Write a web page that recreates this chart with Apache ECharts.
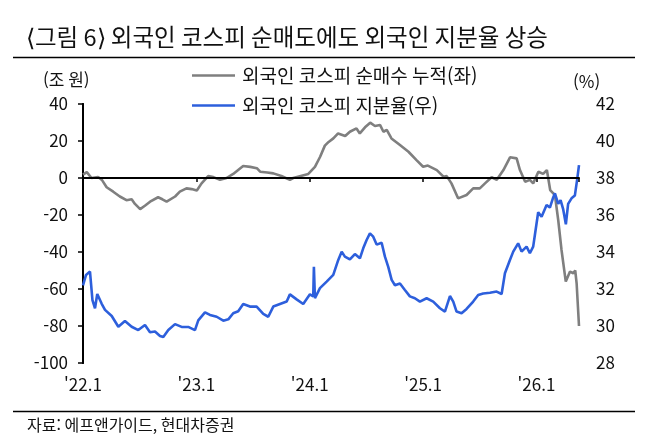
<!DOCTYPE html>
<html lang="ko">
<head>
<meta charset="UTF-8">
<title>외국인 코스피 순매도에도 외국인 지분율 상승</title>
<script src="https://cdn.jsdelivr.net/npm/echarts@6/dist/echarts.min.js"></script>
<style>
  html, body { margin: 0; padding: 0; background: #fff; }
  #chart { width: 658px; height: 444px; }
</style>
</head>
<body>
<div id="chart"></div>
<script>
// x = months since Jan 2022
var yearTicks = ["'22.1", "'23.1", "'24.1", "'25.1", "'26.1"];

// 외국인 코스피 순매수 누적 (조 원, left axis)
var netBuyMonths = [0, 0.4, 0.9, 1.6, 2.0, 2.5, 3.2, 3.9, 4.6, 5.15, 5.5, 6.05, 6.55, 7.1, 7.95, 8.4,
  8.85, 9.75, 10.25, 10.95, 11.5, 12.05, 12.55, 13.25, 13.8, 14.5, 15.2, 15.9, 16.95, 17.7, 18.4,
  18.75, 19.5, 20.15, 21.0, 21.9, 22.25, 22.95, 23.85, 24.55, 25.1, 25.6, 26.0, 26.5, 27.0, 27.75,
  28.25, 28.95, 29.3, 29.85, 30.4, 30.9, 31.45, 31.8, 32.15, 32.65, 33.55, 34.45, 35.3, 36.0, 36.5,
  37.45, 38.15, 38.5, 39.0, 39.7, 40.6, 41.3, 42.0, 42.55, 43.25, 43.8, 44.5, 45.2, 45.9, 46.25,
  46.8, 47.3, 47.65, 48.2, 48.7, 49.1, 49.45, 49.95, 50.3, 50.65, 51.1, 51.55, 51.9, 52.1, 52.25, 52.5];
var netBuy = [1.8, 3.2, 0, 0.5, -1, -5, -7.4, -10, -12, -11.5, -14, -16.8, -15, -12.8, -10.4, -11.5,
  -12.8, -10, -7.4, -5.6, -6, -6.8, -2.9, 1, 0.5, -1, 0, 2.2, 6.5, 6, 5.3,
  3.4, 3.0, 2.5, 1.1, -1, 0, 1, 2.2, 6, 11.5, 17.5, 19.5, 21.4, 24.1, 22.7,
  25, 26.8, 24.1, 27.4, 29.9, 28.1, 28.6, 25, 26, 21.4, 17.8, 14.2, 9.7, 6.1, 6.7,
  4.3, 0.7, 1, -2.9, -11, -9.2, -5.6, -5.6, -2.9, 0.4, -1, 4.3, 11.2, 10.6, 4.3,
  -2, -1, -2.9, 3.4, 2.2, 4.3, -6.5, -9.2, -22.7, -38.9, -56, -50.6, -51.5, -50, -57, -80];

// 외국인 코스피 지분율 (%, right axis)
var shareMonths = [0, 0.32, 0.74, 0.92, 1.0, 1.27, 1.51, 1.98, 2.33, 3.04, 3.74, 4.44, 5.15, 5.85, 6.56,
  7.09, 7.62, 8.15, 8.5, 9.03, 9.74, 10.44, 11.14, 11.85, 12.2, 12.91, 13.44, 14.15, 14.85, 15.38,
  15.9, 16.43, 16.96, 17.67, 18.38, 19.08, 19.61, 20.14, 20.85, 21.56, 21.9, 22.61, 23.31, 24.02,
  24.37, 24.44, 24.55, 25.08, 25.79, 26.49, 27.02, 27.38, 27.72, 28.25, 28.78, 29.31, 29.66, 30.02,
  30.37, 30.72, 31.08, 31.61, 31.96, 32.31, 32.67, 33.02, 33.55, 34.07, 34.6, 35.13, 35.66, 36.37,
  37.07, 37.78, 38.31, 38.84, 39.19, 39.54, 40.07, 40.6, 41.3, 41.83, 42.36, 43.07, 43.78, 44.31,
  44.66, 45.19, 45.54, 46.06, 46.42, 46.95, 47.3, 47.65, 47.83, 48.18, 48.54, 49.07, 49.42, 49.77,
  49.95, 50.3, 50.55, 50.83, 51.11, 51.35, 51.71, 52.06, 52.3, 52.5];
var share = [32.2, 32.76, 32.94, 33.0, 31.4, 30.96, 31.73, 31.2, 30.87, 30.54, 29.96, 30.27, 29.96, 29.78, 30.05,
  29.66, 29.7, 29.46, 29.4, 29.78, 30.1, 29.95, 29.95, 29.78, 30.3, 30.74, 30.6, 30.5, 30.29, 30.36,
  30.69, 30.8, 31.19, 31.05, 31.05, 30.65, 30.5, 31.05, 31.19, 31.32, 31.71, 31.44, 31.19, 31.71,
  31.6, 33.2, 31.5, 32.05, 32.4, 32.76, 33.57, 34.02, 33.75, 33.6, 33.89, 33.66, 34.2, 34.65,
  35.01, 34.83, 34.4, 34.5, 33.75, 33.2, 32.49, 32.2, 32.3, 31.95, 31.6, 31.5, 31.32, 31.5,
  31.32, 30.96, 30.78, 31.62, 31.32, 30.78, 30.69, 30.92, 31.32, 31.68, 31.76, 31.8, 31.86, 31.73,
  32.85, 33.57, 34.02, 34.47, 34.02, 34.29, 33.93, 34.29, 34.92, 36.15, 35.9, 36.54, 36.4, 36.95,
  37.17, 36.6, 36.8, 36.3, 35.5, 36.6, 36.9, 37.05, 37.9, 38.7];

function pairs(xs, ys) {
  return xs.map(function (x, i) { return [x, ys[i]]; });
}

var font = '"Noto Sans CJK KR", "Noto Sans", sans-serif';
var chart = echarts.init(document.getElementById('chart'));

var option = {
  backgroundColor: '#fff',
  animation: false,
  textStyle: { fontFamily: font, color: '#000' },
  grid: { left: 83, right: 79, top: 104, bottom: 81 },
  legend: {
    orient: 'vertical',
    left: 187,
    top: 61,
    icon: 'rect',
    itemWidth: 43,
    itemHeight: 2.5,
    itemGap: 11,
    textStyle: { fontSize: 19, lineHeight: 19, color: '#111', fontFamily: font, padding: [0, 0, 0, 2] },
    data: ['외국인 코스피 순매수 누적(좌)', '외국인 코스피 지분율(우)']
  },
  xAxis: [
    {
      type: 'value', min: 0, max: 52.5, interval: 12, position: 'bottom',
      axisLine: { show: false }, axisTick: { show: false }, splitLine: { show: false },
      axisLabel: {
        margin: 13, fontSize: 17, color: '#111', fontFamily: font,
        formatter: function (v) { return v % 12 === 0 ? yearTicks[v / 12] : ''; }
      }
    },
    {
      type: 'value', min: 0, max: 52.5, interval: 12, position: 'bottom',
      axisLine: { show: true, onZero: true, onZeroAxisIndex: 0, lineStyle: { color: '#000', width: 2 } },
      axisTick: { show: true, length: 4, lineStyle: { color: '#000', width: 1.5 } },
      axisLabel: { show: false }, splitLine: { show: false }, z: 5
    }
  ],
  yAxis: [
    {
      type: 'value', min: -100, max: 40, interval: 20, position: 'left',
      axisLine: { show: true, lineStyle: { color: '#000', width: 2 } },
      axisTick: { show: true, length: 5, lineStyle: { color: '#000', width: 1.5 } },
      axisLabel: { margin: 15, fontSize: 17, color: '#111', fontFamily: font },
      splitLine: { show: false }
    },
    {
      type: 'value', min: 28, max: 42, interval: 2, position: 'right',
      axisLine: { show: true, lineStyle: { color: '#000', width: 2 } },
      axisTick: { show: true, inside: true, length: 5, lineStyle: { color: '#000', width: 1.5 } },
      axisLabel: { margin: 17, fontSize: 17, color: '#111', fontFamily: font },
      splitLine: { show: false }
    }
  ],
  series: [
    {
      name: '외국인 코스피 순매수 누적(좌)',
      type: 'line', xAxisIndex: 0, yAxisIndex: 0,
      symbol: 'none',
      lineStyle: { color: '#7f7f7f', width: 2.6 },
      itemStyle: { color: '#7f7f7f' },
      data: pairs(netBuyMonths, netBuy)
    },
    {
      name: '외국인 코스피 지분율(우)',
      type: 'line', xAxisIndex: 0, yAxisIndex: 1,
      symbol: 'none',
      lineStyle: { color: '#2d5fdc', width: 2.6 },
      itemStyle: { color: '#2d5fdc' },
      data: pairs(shareMonths, share)
    }
  ],
  graphic: [
    { type: 'text', left: 26, top: 25, style: { text: '⟨그림 6⟩ 외국인 코스피 순매도에도 외국인 지분율 상승', font: '23.5px ' + font, fill: '#111' } },
    { type: 'line', shape: { x1: 13, y1: 57.5, x2: 635, y2: 57.5 }, style: { stroke: '#000', lineWidth: 1.5 } },
    { type: 'text', left: 43, top: 71, style: { text: '(조 원)', font: '17px ' + font, fill: '#111' } },
    { type: 'text', left: 573, top: 73, style: { text: '(%)', font: '17px ' + font, fill: '#111' } },
    { type: 'line', shape: { x1: 13, y1: 411.5, x2: 635, y2: 411.5 }, style: { stroke: '#000', lineWidth: 1.5 } },
    { type: 'text', left: 27, top: 417, style: { text: '자료: 에프앤가이드, 현대차증권', font: '16px ' + font, fill: '#111' } }
  ]
};

chart.setOption(option);
</script>
</body>
</html>
